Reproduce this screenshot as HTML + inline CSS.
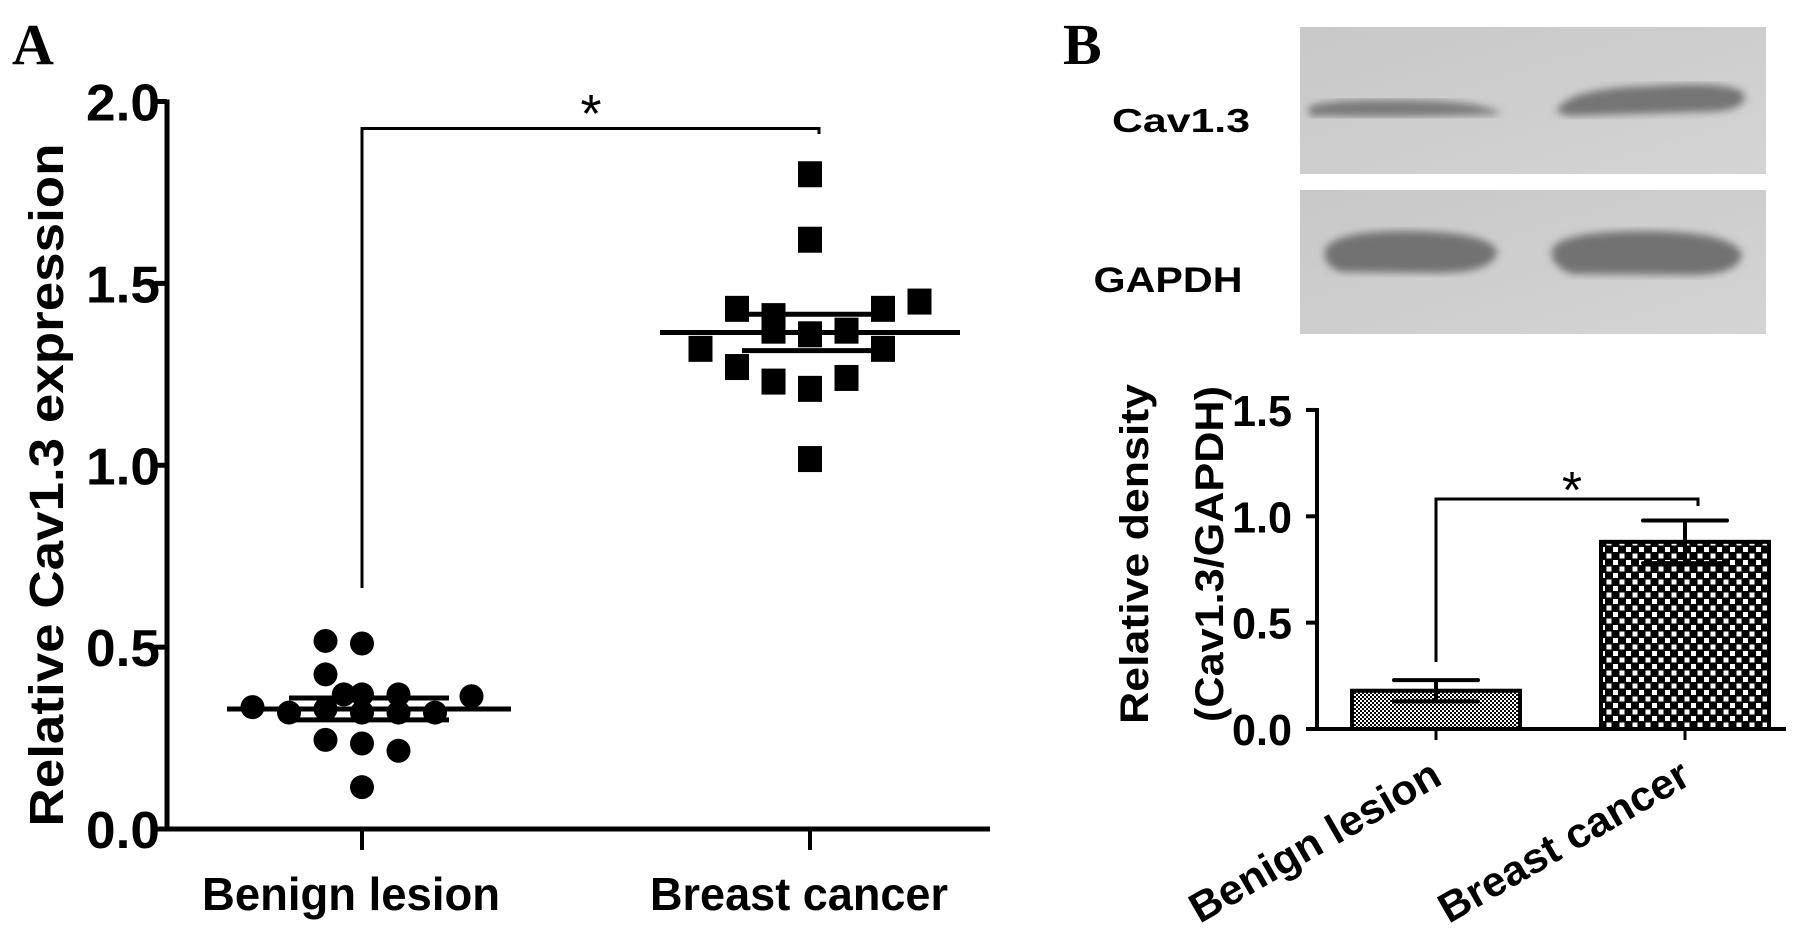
<!DOCTYPE html>
<html><head><meta charset="utf-8"><style>
html,body{margin:0;padding:0;background:#fff}
svg{display:block}
text{font-family:"Liberation Sans",sans-serif;font-weight:bold;fill:#000}
</style></head><body>
<svg id="fig" width="1795" height="934" viewBox="0 0 1795 934">
<defs>
<pattern id="fine" width="4" height="4" patternUnits="userSpaceOnUse"><rect width="4" height="4" fill="#000"/><rect x="0" y="0" width="2" height="2" fill="#fff"/><rect x="2" y="2" width="2" height="2" fill="#fff"/></pattern>
<pattern id="coarse" width="13" height="13" patternUnits="userSpaceOnUse"><rect width="13" height="13" fill="#000"/><rect x="1" y="1" width="5" height="5" fill="#fff"/><rect x="7.5" y="7.5" width="5" height="5" fill="#fff"/></pattern>
<linearGradient id="blotbg" x1="0" y1="0" x2="1" y2="1"><stop offset="0" stop-color="#c8c8c8"/><stop offset="1" stop-color="#d4d4d4"/></linearGradient>
<filter id="blur"><feGaussianBlur stdDeviation="4"/></filter>
</defs>
<g id="panelA"></g>
<g id="panelB"></g>
</svg>
<script>
// Panel A data
const catsA = ["Benign lesion", "Breast cancer"];
const benignVals = [0.335,0.517,0.51,0.425,0.32,0.245,0.235,0.215,0.115,0.37,0.37,0.37,0.32,0.32,0.365,0.33,0.32];
const benignCols = [-3,-1,0,-1,-2,-1,0,1,0,-0.5,0,1,1,2,3,-1,0];
const cancerVals = [1.80,1.62,1.45,1.43,1.41,1.43,1.32,1.27,1.23,1.21,1.24,1.32,1.36,1.017,1.37,1.37];
const cancerCols = [0,0,3,-2,-1,2,-3,-2,-1,0,1,2,0,0,-1,1];
const meansA = [0.33, 1.365];
const semA = [0.03, 0.05];
const ticksA = [0, 0.5, 1.0, 1.5, 2.0];
// Panel B data
const catsB = ["Benign lesion", "Breast cancer"];
const barVals = [0.18, 0.88];
const barErr = [0.05, 0.10];
const ticksB = [0, 0.5, 1.0, 1.5];

const NS = "http://www.w3.org/2000/svg";
function mk(parent, tag, attrs, txt){const e=document.createElementNS(NS,tag);for(const k in attrs)e.setAttribute(k,attrs[k]);if(txt!==undefined)e.textContent=txt;parent.appendChild(e);return e;}

// ---------- Panel A ----------
const A = document.getElementById('panelA');
const yA = v => 829 - v*363.75;
const xA = i => [362, 810][i];
const colW = 36.5;
let t;
t = mk(A,'text',{x:12,y:64,'font-size':58,style:'font-family:"Liberation Serif",serif'},'A');
 
let ax = mk(A,'line',{x1:167,y1:yA(2)-2,x2:167,y2:yA(0)+2.5,stroke:'#000','stroke-width':5});
 
ax = mk(A,'line',{x1:165,y1:yA(0),x2:990,y2:yA(0),stroke:'#000','stroke-width':5});
 
ticksA.forEach(v=>{
  const tk = mk(A,'line',{x1:155,y1:yA(v),x2:167,y2:yA(v),stroke:'#000','stroke-width':5});
   
  const lb = mk(A,'text',{x:160,y:yA(v)+19,'font-size':52,'text-anchor':'end',textLength:74,lengthAdjust:'spacingAndGlyphs'},v.toFixed(1));
   
});
catsA.forEach((c,i)=>{
  const tk = mk(A,'line',{x1:xA(i),y1:yA(0),x2:xA(i),y2:850,stroke:'#000','stroke-width':4});
   
  const lb = mk(A,'text',{x:xA(i)-11,y:910,'font-size':46,'text-anchor':'middle',textLength:298,lengthAdjust:'spacingAndGlyphs'},c);
   
});
t = mk(A,'text',{x:0,y:0,'font-size':48,'text-anchor':'middle',transform:'translate(63,485) rotate(-90)',textLength:683,lengthAdjust:'spacingAndGlyphs'},'Relative Cav1.3 expression');
 
// significance
let br = mk(A,'path',{d:`M${xA(0)} 588 V128.5 H${xA(1)+9} V134`,fill:'none',stroke:'#000','stroke-width':3});
 
t = mk(A,'text',{x:591,y:132,'font-size':54,'text-anchor':'middle',style:'font-weight:normal'},'*');
 
// points
benignVals.forEach((v,i)=>{
  const c = mk(A,'circle',{cx:xA(0)+benignCols[i]*colW,cy:yA(v),r:12,fill:'#000'});
   
});
cancerVals.forEach((v,i)=>{
  const r = mk(A,'rect',{x:xA(1)+cancerCols[i]*colW-12,y:yA(v)-13,width:24,height:26,fill:'#000'});
   
});
// mean & SEM lines
const meanHalf=[142,150], semHalf=[80,68];
meansA.forEach((m,i)=>{
  const cx = xA(i)+ (i===0?7:0);
  const l = mk(A,'line',{x1:cx-meanHalf[i],y1:yA(m),x2:cx+meanHalf[i],y2:yA(m),stroke:'#000','stroke-width':5});
   
  [1,-1].forEach(s=>{
    const e = mk(A,'line',{x1:cx-semHalf[i],y1:yA(m+s*semA[i]),x2:cx+semHalf[i],y2:yA(m+s*semA[i]),stroke:'#000','stroke-width':5});
     
  });
});

// ---------- Panel B ----------
const B = document.getElementById('panelB');
t = mk(B,'text',{x:1063,y:64,'font-size':58,style:'font-family:"Liberation Serif",serif'},'B');
 
// blots
let g = mk(B,'g',{});  
mk(g,'rect',{x:1300,y:27,width:466,height:147,fill:'url(#blotbg)'});
mk(g,'path',{d:'M1308 108 Q1320 99 1400 100 Q1480 100 1502 114 Q1420 118 1310 116 Z',fill:'#7a7a7a',filter:'url(#blur)'});
mk(g,'path',{d:'M1556 112 Q1566 88 1650 86 Q1740 80 1745 96 Q1745 112 1700 112 L1570 116 Z',fill:'#747474',filter:'url(#blur)'});
g = mk(B,'g',{});  
mk(g,'rect',{x:1300,y:190,width:466,height:144,fill:'url(#blotbg)'});
mk(g,'path',{d:'M1325 250 Q1332 232 1400 231 Q1485 231 1497 250 Q1497 272 1440 273 L1342 272 Q1322 266 1325 250 Z',fill:'#727272',filter:'url(#blur)'});
mk(g,'path',{d:'M1552 250 Q1558 232 1640 231 Q1735 231 1742 255 Q1738 277 1680 275 L1572 274 Q1550 266 1552 250 Z',fill:'#727272',filter:'url(#blur)'});
t = mk(B,'text',{x:1181,y:132,'font-size':33,'text-anchor':'middle',textLength:138,lengthAdjust:'spacingAndGlyphs'},'Cav1.3');
 
t = mk(B,'text',{x:1168,y:292,'font-size':35,'text-anchor':'middle',textLength:149,lengthAdjust:'spacingAndGlyphs'},'GAPDH');
 
// bar chart
const yB = v => 729 - v*212.7;
const xB = i => [1436, 1685][i];
const barW = 168;
ax = mk(B,'line',{x1:1317,y1:yB(1.5)-2,x2:1317,y2:yB(0)+2,stroke:'#000','stroke-width':4});
 
ax = mk(B,'line',{x1:1315,y1:yB(0),x2:1786,y2:yB(0),stroke:'#000','stroke-width':4});
 
ticksB.forEach(v=>{
  const tk = mk(B,'line',{x1:1306,y1:yB(v),x2:1317,y2:yB(v),stroke:'#000','stroke-width':4});
   
  const lb = mk(B,'text',{x:1292,y:yB(v)+16,'font-size':44,'text-anchor':'end',textLength:60,lengthAdjust:'spacingAndGlyphs'},v.toFixed(1));
   
});
t = mk(B,'text',{x:0,y:0,'font-size':40,'text-anchor':'middle',transform:'translate(1148,554) rotate(-90)',textLength:340,lengthAdjust:'spacingAndGlyphs'},'Relative density');
 
t = mk(B,'text',{x:0,y:0,'font-size':40,'text-anchor':'middle',transform:'translate(1223,554) rotate(-90)',textLength:336,lengthAdjust:'spacingAndGlyphs'},'(Cav1.3/GAPDH)');
 
const fills=['url(#fine)','url(#coarse)'];
barVals.forEach((v,i)=>{
  const r = mk(B,'rect',{x:xB(i)-barW/2,y:yB(v),width:barW,height:yB(0)-yB(v),fill:fills[i],stroke:'#000','stroke-width':4});
   
  const e = mk(B,'path',{d:`M${xB(i)} ${yB(v-barErr[i])} V${yB(v+barErr[i])} M${xB(i)-42} ${yB(v+barErr[i])} H${xB(i)+42} M${xB(i)-42} ${yB(v-barErr[i])} H${xB(i)+42}`,fill:'none',stroke:'#000','stroke-width':4,'stroke-linecap':'round'});
   
  const tk = mk(B,'line',{x1:xB(i),y1:yB(0),x2:xB(i),y2:yB(0)+11,stroke:'#000','stroke-width':3});
   
  const lb = mk(B,'text',{x:0,y:0,'font-size':42,'text-anchor':'end',transform:`translate(${xB(i)+8},${yB(0)+54}) rotate(-30)`,textLength:282,lengthAdjust:'spacingAndGlyphs'},catsB[i]);
   
});
br = mk(B,'path',{d:`M${xB(0)} 662 V499 H${xB(1)+13} V506`,fill:'none',stroke:'#000','stroke-width':3});
 
t = mk(B,'text',{x:1572,y:508,'font-size':52,'text-anchor':'middle',style:'font-weight:normal'},'*');
 
</script>
</body></html>
